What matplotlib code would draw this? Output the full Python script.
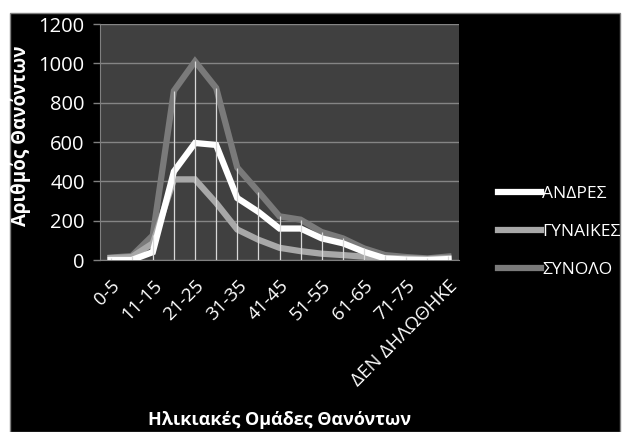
import numpy as np
import matplotlib
matplotlib.use("Agg")
import matplotlib.pyplot as plt
from matplotlib.patches import Rectangle

plt.rcParams["font.family"] = ["Open Sans", "DejaVu Sans"]

# age groups of the deceased
age_groups = [
    "0-5", "6-10", "11-15", "16-20", "21-25", "26-30", "31-35", "36-40",
    "41-45", "46-50", "51-55", "56-60", "61-65", "66-70", "71-75", "76+",
    "ΔΕΝ ΔΗΛΩΘΗΚΕ",
]
men = [0, 0, 40, 450, 595, 585, 315, 245, 160, 160, 110, 85, 42, 8, 2, 0, 5]
women = [10, 15, 85, 410, 410, 290, 155, 103, 62, 45, 32, 25, 17, 10, 8, 5, 10]
total = [12, 20, 125, 860, 1010, 875, 470, 348, 222, 205, 142, 110, 59, 25, 15, 8, 18]

W, H = 622, 432
fig = plt.figure(figsize=(W / 100, H / 100), dpi=100, facecolor="white")

# black chart area
fig.patches.append(Rectangle((10 / W, 0), 610 / W, (H - 13) / H,
                             transform=fig.transFigure, facecolor="black",
                             edgecolor="#808080", lw=1, zorder=-10))

ax = fig.add_axes([100 / W, 1 - 260 / H, 359 / W, (260 - 24) / H])
ax.set_zorder(2)
ax.set_facecolor("#404040")

x = np.arange(len(age_groups))
ax.plot(x, total, color="#7a7a7a", lw=4.5, label="ΣΥΝΟΛΟ", zorder=3,
        solid_joinstyle="miter")
ax.plot(x, women, color="#a8a8a8", lw=4.5, label="ΓΥΝΑΙΚΕΣ", zorder=4,
        solid_joinstyle="miter")
ax.plot(x, men, color="#ffffff", lw=4.5, label="ΑΝΔΡΕΣ", zorder=5,
        solid_joinstyle="miter")

# drop lines from the highest point down to zero
tops = np.maximum.reduce([men, women, total])
ax.vlines(x, 0, tops, color="#d8d8d8", lw=0.9, zorder=6)

ax.set_xlim(-0.5, len(age_groups) - 0.5)
ax.set_ylim(0, 1200)
ax.set_yticks(range(0, 1201, 200))
ax.yaxis.grid(True, color="#858585", lw=1)
ax.set_axisbelow(True)

ax.set_xticks(x)
ax.set_xticklabels([lab if i % 2 == 0 else "" for i, lab in enumerate(age_groups)],
                   rotation=45, ha="right", rotation_mode="anchor")
ax.tick_params(axis="x", length=0, pad=12, colors="white", labelsize=13.5)
ax.tick_params(axis="y", length=5, width=1, color="#808080", colors="white",
               labelsize=14.5, pad=6)

for side in ["top", "right"]:
    ax.spines[side].set_visible(False)
ax.spines["left"].set_color("#808080")
ax.spines["bottom"].set_color("#808080")

fig.text(21 / W, 1 - 136 / H, "Αριθμός Θανόντων", color="white", fontsize=13.5,
         fontweight="bold", rotation=90, ha="center", va="center")
fig.text(280 / W, 1 - 420 / H, "Ηλικιακές Ομάδες Θανόντων", color="white",
         fontsize=13, fontweight="bold", ha="center", va="center")

handles, labels = ax.get_legend_handles_labels()
leg = fig.legend(handles[::-1], labels[::-1], loc="center left",
                 bbox_to_anchor=(491 / W, 1 - 232 / H), frameon=False,
                 fontsize=12.5, handlelength=2.5, handletextpad=0.05,
                 labelspacing=1.28, borderaxespad=0)
for t in leg.get_texts():
    t.set_color("white")

fig.savefig("out.png", dpi=100, facecolor="white")
